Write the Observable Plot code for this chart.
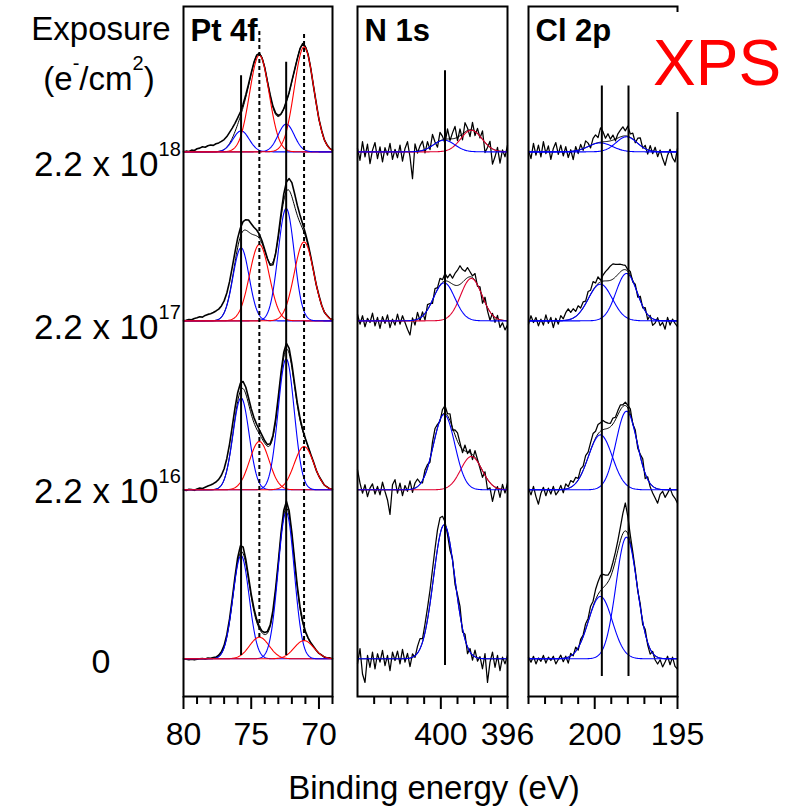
<!DOCTYPE html>
<html><head><meta charset="utf-8">
<script src="https://cdn.jsdelivr.net/npm/d3@7"></script>
<script src="https://cdn.jsdelivr.net/npm/@observablehq/plot@0.6"></script>
<style>
html,body{margin:0;padding:0;background:#fff;}
#chart{position:relative;width:796px;height:807px;overflow:hidden;font-family:"Liberation Sans",Arial,sans-serif;}
#chart svg{position:absolute;left:0;top:0;}
</style></head><body><div id="chart"></div>
<script>
// ---- exposures (bottom to top) ----
const exposureOffsets = [0, 10, 20, 30];
const exposureBase = ["0", "2.2 x 10", "2.2 x 10", "2.2 x 10"];
const exposureExp = ["", "16", "17", "18"];

// ---- Pt 4f ----
const ptTicksMajor = [80, 75, 70];
const ptTicksMinor = [79, 78, 77, 76, 74, 73, 72, 71, 69];
const ptCenters = [75.75, 74.4, 72.42, 71.1];
const ptFwhm = [1.4, 1.7, 1.4, 1.7];
const ptColors = ["#0000ff", "#ff0000", "#0000ff", "#ff0000"];
const ptHeights = [
  [6.11, 1.28, 8.68, 1.08],
  [5.44, 2.86, 7.75, 2.56],
  [4.32, 4.52, 6.65, 4.67],
  [1.24, 5.72, 1.64, 6.21]
];
const ptResidual = [
  [0,-3,-5,-2,-6,-3,0,2,-1,4, 3,6,5,8,10,12,14,15,18,20, 28,40,38,25,18,15,18,15,12,10, 12,10,8,12,15,12,20,30,40,30, 20,15,12,10,8,6,4,2,3,0, -2,1,-3,0,2,-1],
  [0,-4,3,2,-3,5,10,8,15,22, 28,35,42,50,58,65,70,72,70,62, 52,45,42,40,35,32,30,28,25,20, 15,10,8,10,15,18,22,30,36,30, 22,18,15,12,8,5,3,0,2,-3, 0,3,-2,1,-4,0],
  [0,3,8,6,14,18,24,22,32,38, 42,48,55,60,66,70,72,72,70,62, 55,50,55,62,70,60,45,35,25,15, 8,0,-10,-15,-5,10,25,40,55,70, 83,75,60,45,30,18,10,5,3,-2, 4,0,-3,2,-1,0],
  [0,4,2,10,8,18,22,30,27,36, 40,38,47,50,55,58,62,65,60,50, 38,25,18,14,10,6,4,2,0,-2, 0,-4,2,5,8,6,3,0,2,-3, 4,0,-2,3,5,-4,2,0,-3,2, -2,4,-1,2,0,1]
];
const ptLines = [
  {E: 75.75, y1: 0.2, y2: 34.5, dashed: false},
  {E: 72.42, y1: 0.2, y2: 35.3, dashed: false},
  {E: 74.4, y1: 1.26, y2: 37.2, dashed: true},
  {E: 71.1, y1: 1.08, y2: 37.0, dashed: true}
];

// ---- N 1s ----
const nTicksMajor = [400, 396];
const nTicksMinor = [404, 403, 402, 401, 399, 398, 397];
const nCenters = [398.17, 399.8];
const nFwhm = [1.5, 1.5];
const nColors = ["#e00030", "#0000ff"];
const nHeights = [
  [0, 7.93],
  [1.97, 4.46],
  [2.51, 2.25],
  [1.28, 0.69]
];
const nResidual = [
  [-30,60,-90,-140,20,-50,40,-60,30,-20, 50,-40,20,-70,40,-10,45,-30,55,-20, 30,-50,20,-10,40,60,20,50,70,80, 95,105,112,100,60,20,-20,-40,10,-30, 20,50,-20,30,-40,20,-30,40,-20,10, -60,30,-140,-20,40,-50,20,-70,10,-30,20],
  [120,40,-20,30,-40,10,35,-25,20,-30, 45,-10,-60,-145,30,60,-20,40,-35,25, -10,50,-20,30,45,10,-15,30,20,-20, 40,55,20,-10,30,45,10,40,-15,30, 50,20,-20,35,-10,20,-30,40,10,-15, -40,20,-60,-30,-95,-20,10,-50,30,-20,40],
  [40,-20,30,-35,15,-10,45,-30,20,-45, 25,-15,35,-40,10,-25,40,-20,30,-10, -50,-85,15,-30,40,-15,25,-40,30,10, -20,35,10,40,15,45,20,50,35,70, 90,110,75,50,60,30,10,40,-10,20, -40,30,-20,-50,10,-30,20,-45,-15,-55,-25],
  [20,-50,60,-30,45,-70,10,55,-40,30, -60,25,-20,50,-45,15,-35,40,-55,20, 60,-30,-160,45,-10,30,55,-20,40,-15, 65,10,-30,50,20,-25,60,-10,35,70, -20,40,-35,55,15,-40,45,-25,30,-10, 50,-60,-15,35,-90,-40,20,-70,10,-30,40]
];
const nLines = [{E: 399.75, y1: -0.4, y2: 34.8, dashed: false}];

// ---- Cl 2p ----
const clTicksMajor = [200, 195];
const clTicksMinor = [204, 203, 202, 201, 199, 198, 197, 196];
const clCenters = [199.66, 198.08];
const clFwhm = [1.7, 1.5];
const clColors = ["#0000ff", "#0000ff"];
const clHeights = [
  [3.69, 7.2],
  [3.25, 4.65],
  [2.17, 2.8],
  [0.53, 0.89]
];
const clResidual = [
  [10,-20,15,-30,5,-15,20,-25,10,-10, 15,-30,-5,20,-20,10,-35,15,-10,25, -15,20,10,35,20,45,30,60,75,90, 80,60,40,35,45,50,60,80,120,165, 100,40,20,10,-10,15,-20,25,-15,-30, 10,-25,-40,-10,-50,-20,15,-35,10,-45,-60],
  [10,-30,20,-40,-85,-20,15,-35,10,-25, 20,-30,-10,25,-20,30,10,40,20,35, 10,40,25,50,30,45,60,40,55,50, 55,40,30,20,35,15,25,30,10,20, 15,30,-10,20,-20,10,40,-30,15,-20, -40,-60,-85,-30,-10,-45,-20,10,-30,-50,-80],
  [-20,30,-10,20,-30,10,-25,35,-15,20, -40,15,-20,30,10,45,65,40,55,30, 50,20,35,15,45,25,50,20,40,10, 35,55,70,85,90,75,60,45,30,25, 10,20,-10,15,-20,25,-10,20,-30,10, -40,-20,15,-30,-10,-50,20,-25,10,-15,-35],
  [10,-40,50,-20,40,-30,60,-10,35,-45, 20,55,-15,40,-25,30,-35,10,-50,25, -20,30,-10,40,20,-15,35,50,30,85, 60,20,45,10,30,-10,25,40,55,30, 60,20,35,-10,30,45,-5,20,-25,30, -15,25,-30,10,-40,-80,-20,15,-35,-60,20]
];
const clLines = [
  {E: 199.57, y1: -1.05, y2: 33.9, dashed: false},
  {E: 197.96, y1: -1.05, y2: 33.9, dashed: false}
];

// ---- panels ----
const panels = [
  {title: "Pt 4f", domain: [80, 69], step: 0.2, left: 183, right: 332, centers: ptCenters, fwhm: ptFwhm, colors: ptColors, heights: ptHeights, residual: ptResidual, lines: ptLines, major: ptTicksMajor, minor: ptTicksMinor, dataWidth: 1.6},
  {title: "N 1s", domain: [405, 396], step: 0.15, left: 357, right: 507, centers: nCenters, fwhm: nFwhm, colors: nColors, heights: nHeights, residual: nResidual, lines: nLines, major: nTicksMajor, minor: nTicksMinor, dataWidth: 1.25},
  {title: "Cl 2p", domain: [204, 195], step: 0.15, left: 528, right: 677, centers: clCenters, fwhm: clFwhm, colors: clColors, heights: clHeights, residual: clResidual, lines: clLines, major: clTicksMajor, minor: clTicksMinor, dataWidth: 1.25}
];

const W = 796, H = 807, TOP = 6, BOTTOM = 696;
const FONT = 'Arial, "Liberation Sans", Helvetica, sans-serif';

function gauss(E, c, h, w) { return h * Math.exp(-4 * Math.LN2 * (E - c) * (E - c) / (w * w)); }

function build(cfg) {
  const comps = [], env = [], data = [];
  const fine = 0.05;
  const n = Math.round((cfg.domain[0] - cfg.domain[1]) / fine);
  cfg.heights.forEach((hs, s) => {
    const off = exposureOffsets[s];
    for (let i = 0; i <= n; i++) {
      const E = cfg.domain[0] - i * fine;
      let sum = 0;
      cfg.centers.forEach((c, k) => {
        if (hs[k] > 0) {
          const v = gauss(E, c, hs[k], cfg.fwhm[k]);
          sum += v;
          comps.push({E, y: off + v, key: s + "-" + k, color: cfg.colors[k]});
        }
      });
      env.push({E, y: off + sum, s});
    }
    cfg.residual[s].forEach((r, i) => {
      const E = cfg.domain[0] - i * cfg.step;
      let sum = 0;
      cfg.centers.forEach((c, k) => { if (hs[k] > 0) sum += gauss(E, c, hs[k], cfg.fwhm[k]); });
      data.push({E, y: off + sum + r / 100, s});
    });
  });
  return {comps, env, data};
}

const chart = document.getElementById("chart");

panels.forEach(cfg => {
  const P = build(cfg);
  const plot = Plot.plot({
    width: W, height: H,
    marginLeft: cfg.left, marginRight: W - cfg.right, marginTop: TOP, marginBottom: H - BOTTOM,
    x: {domain: cfg.domain, label: null},
    y: {domain: [-2.23, 38.6], axis: null, label: null},
    color: {type: "identity"},
    style: {background: "transparent", fontFamily: FONT, fontSize: "32px", overflow: "visible", color: "black"},
    marks: [
      Plot.line(P.data, {x: "E", y: "y", z: "s", stroke: "black", strokeWidth: cfg.dataWidth}),
      Plot.line(P.env, {x: "E", y: "y", z: "s", stroke: "black", strokeWidth: 1}),
      Plot.line(P.comps, {x: "E", y: "y", z: "key", stroke: "color", strokeWidth: 1.1}),
      Plot.ruleX(cfg.lines.filter(d => !d.dashed), {x: "E", y1: "y1", y2: "y2", stroke: "black", strokeWidth: 2}),
      Plot.ruleX(cfg.lines.filter(d => d.dashed), {x: "E", y1: "y1", y2: "y2", stroke: "black", strokeWidth: 2, strokeDasharray: "4,3"}),
      Plot.frame({stroke: "black", strokeWidth: 2}),
      Plot.axisX(cfg.minor, {tickSize: 8, tickFormat: () => "", stroke: "black", strokeWidth: 2, label: null}),
      Plot.axisX(cfg.major, {tickSize: 13, tickPadding: 13, tickFormat: d => String(d), stroke: "black", strokeWidth: 2, fill: "black", fontSize: 32, label: null}),
      Plot.text([cfg.title], {frameAnchor: "top-left", text: d => d, dx: 7, dy: 12, lineAnchor: "top", textAnchor: "start", fontWeight: "bold", fontSize: 31, fill: "black"})
    ]
  });
  chart.appendChild(plot);
});

// ---- text overlay: exposure labels, axis title, XPS ----
const ov = d3.create("svg").attr("width", W).attr("height", H)
  .style("position", "absolute").style("left", 0).style("top", 0)
  .attr("font-family", FONT).attr("fill", "black");

ov.append("text").attr("x", 101).attr("y", 40).attr("text-anchor", "middle").attr("font-size", 33).text("Exposure");
const unit = ov.append("text").attr("x", 99).attr("y", 90).attr("text-anchor", "middle").attr("font-size", 33);
unit.append("tspan").text("(e");
unit.append("tspan").attr("dy", -20).attr("font-size", 20).text("-");
unit.append("tspan").attr("dy", 20).text("/cm");
unit.append("tspan").attr("dy", -20).attr("font-size", 20).text("2");
unit.append("tspan").attr("dy", 20).text(")");

const labelBaselines = [673, 502.5, 339, 176.4];
exposureBase.forEach((b, i) => {
  if (exposureExp[i] === "") {
    ov.append("text").attr("x", 101).attr("y", labelBaselines[i]).attr("text-anchor", "middle").attr("font-size", 34).text(b);
  } else {
    const t = ov.append("text").attr("x", 34).attr("y", labelBaselines[i]).attr("font-size", 35);
    t.append("tspan").text(b);
    t.append("tspan").attr("dy", -20).attr("font-size", 20).text(exposureExp[i]);
  }
});

ov.append("text").attr("x", 434).attr("y", 799).attr("text-anchor", "middle").attr("font-size", 33).text("Binding energy (eV)");

ov.append("rect").attr("x", 645).attr("y", 12).attr("width", 151).attr("height", 100).attr("fill", "white");
ov.append("text").attr("x", 653).attr("y", 85).attr("font-size", 64).attr("fill", "#ff0000").text("XPS");

chart.appendChild(ov.node());
</script>
</body></html>
